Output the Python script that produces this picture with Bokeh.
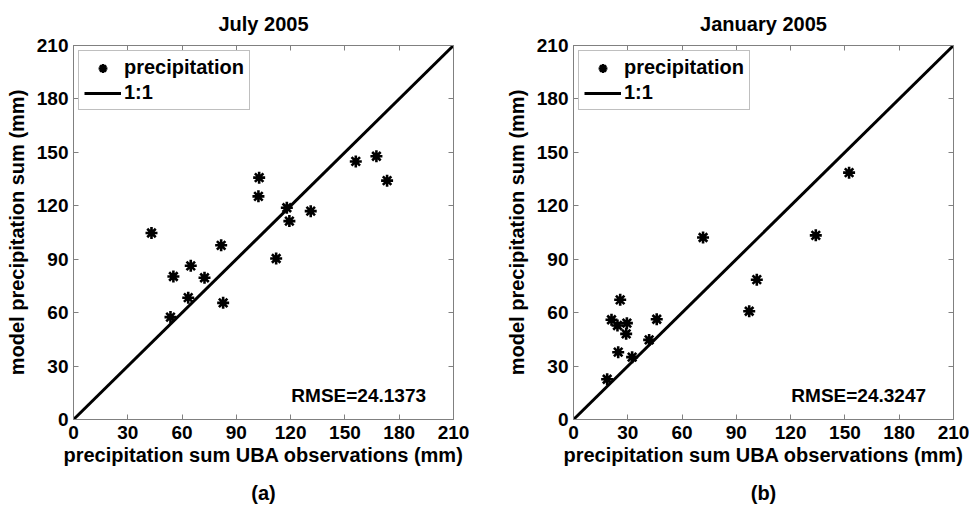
from bokeh.plotting import figure
from bokeh.models import (Range1d, LinearAxis, Label, Legend, LegendItem,
                          FixedTicker, CustomJSTickFormatter, Title)
from bokeh.layouts import row
from bokeh.embed import file_html
from bokeh.resources import INLINE

# Monthly precipitation sums (mm): station observations vs. model
july_obs = [43.1, 55.2, 53.6, 64.8, 63.4, 72.4, 81.6, 82.7, 102.6, 102.2,
            112.0, 117.9, 119.3, 131.1, 156.0, 167.4, 173.3]
july_model = [104.7, 80.3, 57.5, 86.3, 68.4, 79.6, 97.8, 65.5, 135.8, 125.3,
              90.4, 118.9, 111.4, 117.0, 144.9, 147.8, 134.1]

jan_obs = [152.3, 133.9, 101.3, 97.1, 71.6, 25.8, 21.0, 24.3, 29.5, 29.1,
           46.0, 41.8, 24.7, 32.4, 18.6]
jan_model = [138.6, 103.4, 78.5, 60.8, 102.2, 67.2, 56.0, 52.8, 54.1, 48.1,
             56.3, 44.7, 37.8, 35.0, 22.6]

# 1:1 reference line end points and axis ticks
one_to_one = [0, 210]
ticks = [0, 30, 60, 90, 120, 150, 180, 210]

FONT = "Liberation Sans"
GRAY = "#808080"


def style_axis(ax, labelled=True):
    ax.ticker = FixedTicker(ticks=ticks)
    ax.major_tick_in = 5
    ax.major_tick_out = 0
    ax.minor_tick_in = 0
    ax.minor_tick_out = 0
    ax.axis_line_color = GRAY
    ax.major_tick_line_color = GRAY
    if labelled:
        ax.major_label_text_font = FONT
        ax.major_label_text_font_style = "bold"
        ax.major_label_text_font_size = "19px"
        ax.major_label_text_color = "black"
        ax.axis_label_text_font = FONT
        ax.axis_label_text_font_style = "bold"
        ax.axis_label_text_font_size = "20px"
        ax.axis_label_text_color = "black"
    else:
        ax.formatter = CustomJSTickFormatter(code="return ''")
        ax.major_label_standoff = 0


def panel(title, obs, model, rmse, caption, caption_shift, right_border):
    p = figure(frame_width=380, frame_height=374,
               x_range=Range1d(0, 210), y_range=Range1d(0, 210),
               min_border_left=73, min_border_right=right_border,
               min_border_top=45, min_border_bottom=94,
               output_backend="svg", toolbar_location=None, title=title)
    p.title.text_font = FONT
    p.title.text_font_style = "bold"
    p.title.text_font_size = "20px"
    p.title.text_color = "black"
    p.title.align = "center"
    p.title.standoff = 21
    p.xgrid.visible = False
    p.ygrid.visible = False
    p.outline_line_color = GRAY

    style_axis(p.xaxis[0])
    style_axis(p.yaxis[0])
    p.xaxis.axis_label = "precipitation sum UBA observations (mm)"
    p.yaxis.axis_label = "model precipitation sum (mm)"
    p.xaxis.major_label_standoff = 6
    p.xaxis.axis_label_standoff = 2
    p.yaxis.major_label_standoff = 5
    p.yaxis.axis_label_standoff = 6

    top = LinearAxis()
    style_axis(top, labelled=False)
    p.add_layout(top, "above")
    rgt = LinearAxis()
    style_axis(rgt, labelled=False)
    p.add_layout(rgt, "right")

    line_r = p.line(one_to_one, one_to_one, line_color="black", line_width=3)
    pts_r = p.scatter(obs, model, marker="asterisk", size=12,
                      line_color="black", line_width=2.6)

    legend = Legend(items=[LegendItem(label="precipitation", renderers=[pts_r]),
                           LegendItem(label="1:1", renderers=[line_r])],
                    location="top_left", margin=5, padding=5, spacing=2,
                    glyph_width=37, glyph_height=22, label_height=22,
                    label_standoff=3, label_text_font=FONT,
                    label_text_font_style="bold", label_text_font_size="20px",
                    label_text_color="black",
                    border_line_color=GRAY, border_line_width=1)
    p.add_layout(legend)

    p.add_layout(Label(x=120.4, y=13.5, text=rmse, text_font=FONT,
                       text_font_style="bold", text_font_size="19px",
                       text_color="black",
                       text_align="left", text_baseline="middle"))

    # panel caption underneath the x-axis label
    p.add_layout(Title(text=caption, align="center", offset=caption_shift,
                       standoff=23, text_font=FONT, text_font_style="bold",
                       text_font_size="20px", text_color="black"), "below")
    return p


p1 = panel("July 2005", july_obs, july_model, "RMSE=24.1373", "(a)", -8, 47)
p2 = panel("January 2005", jan_obs, jan_model, "RMSE=24.3247", "(b)", -4, 16)

layout = row(p1, p2)
open("out.html", "w").write(file_html(layout, INLINE))
